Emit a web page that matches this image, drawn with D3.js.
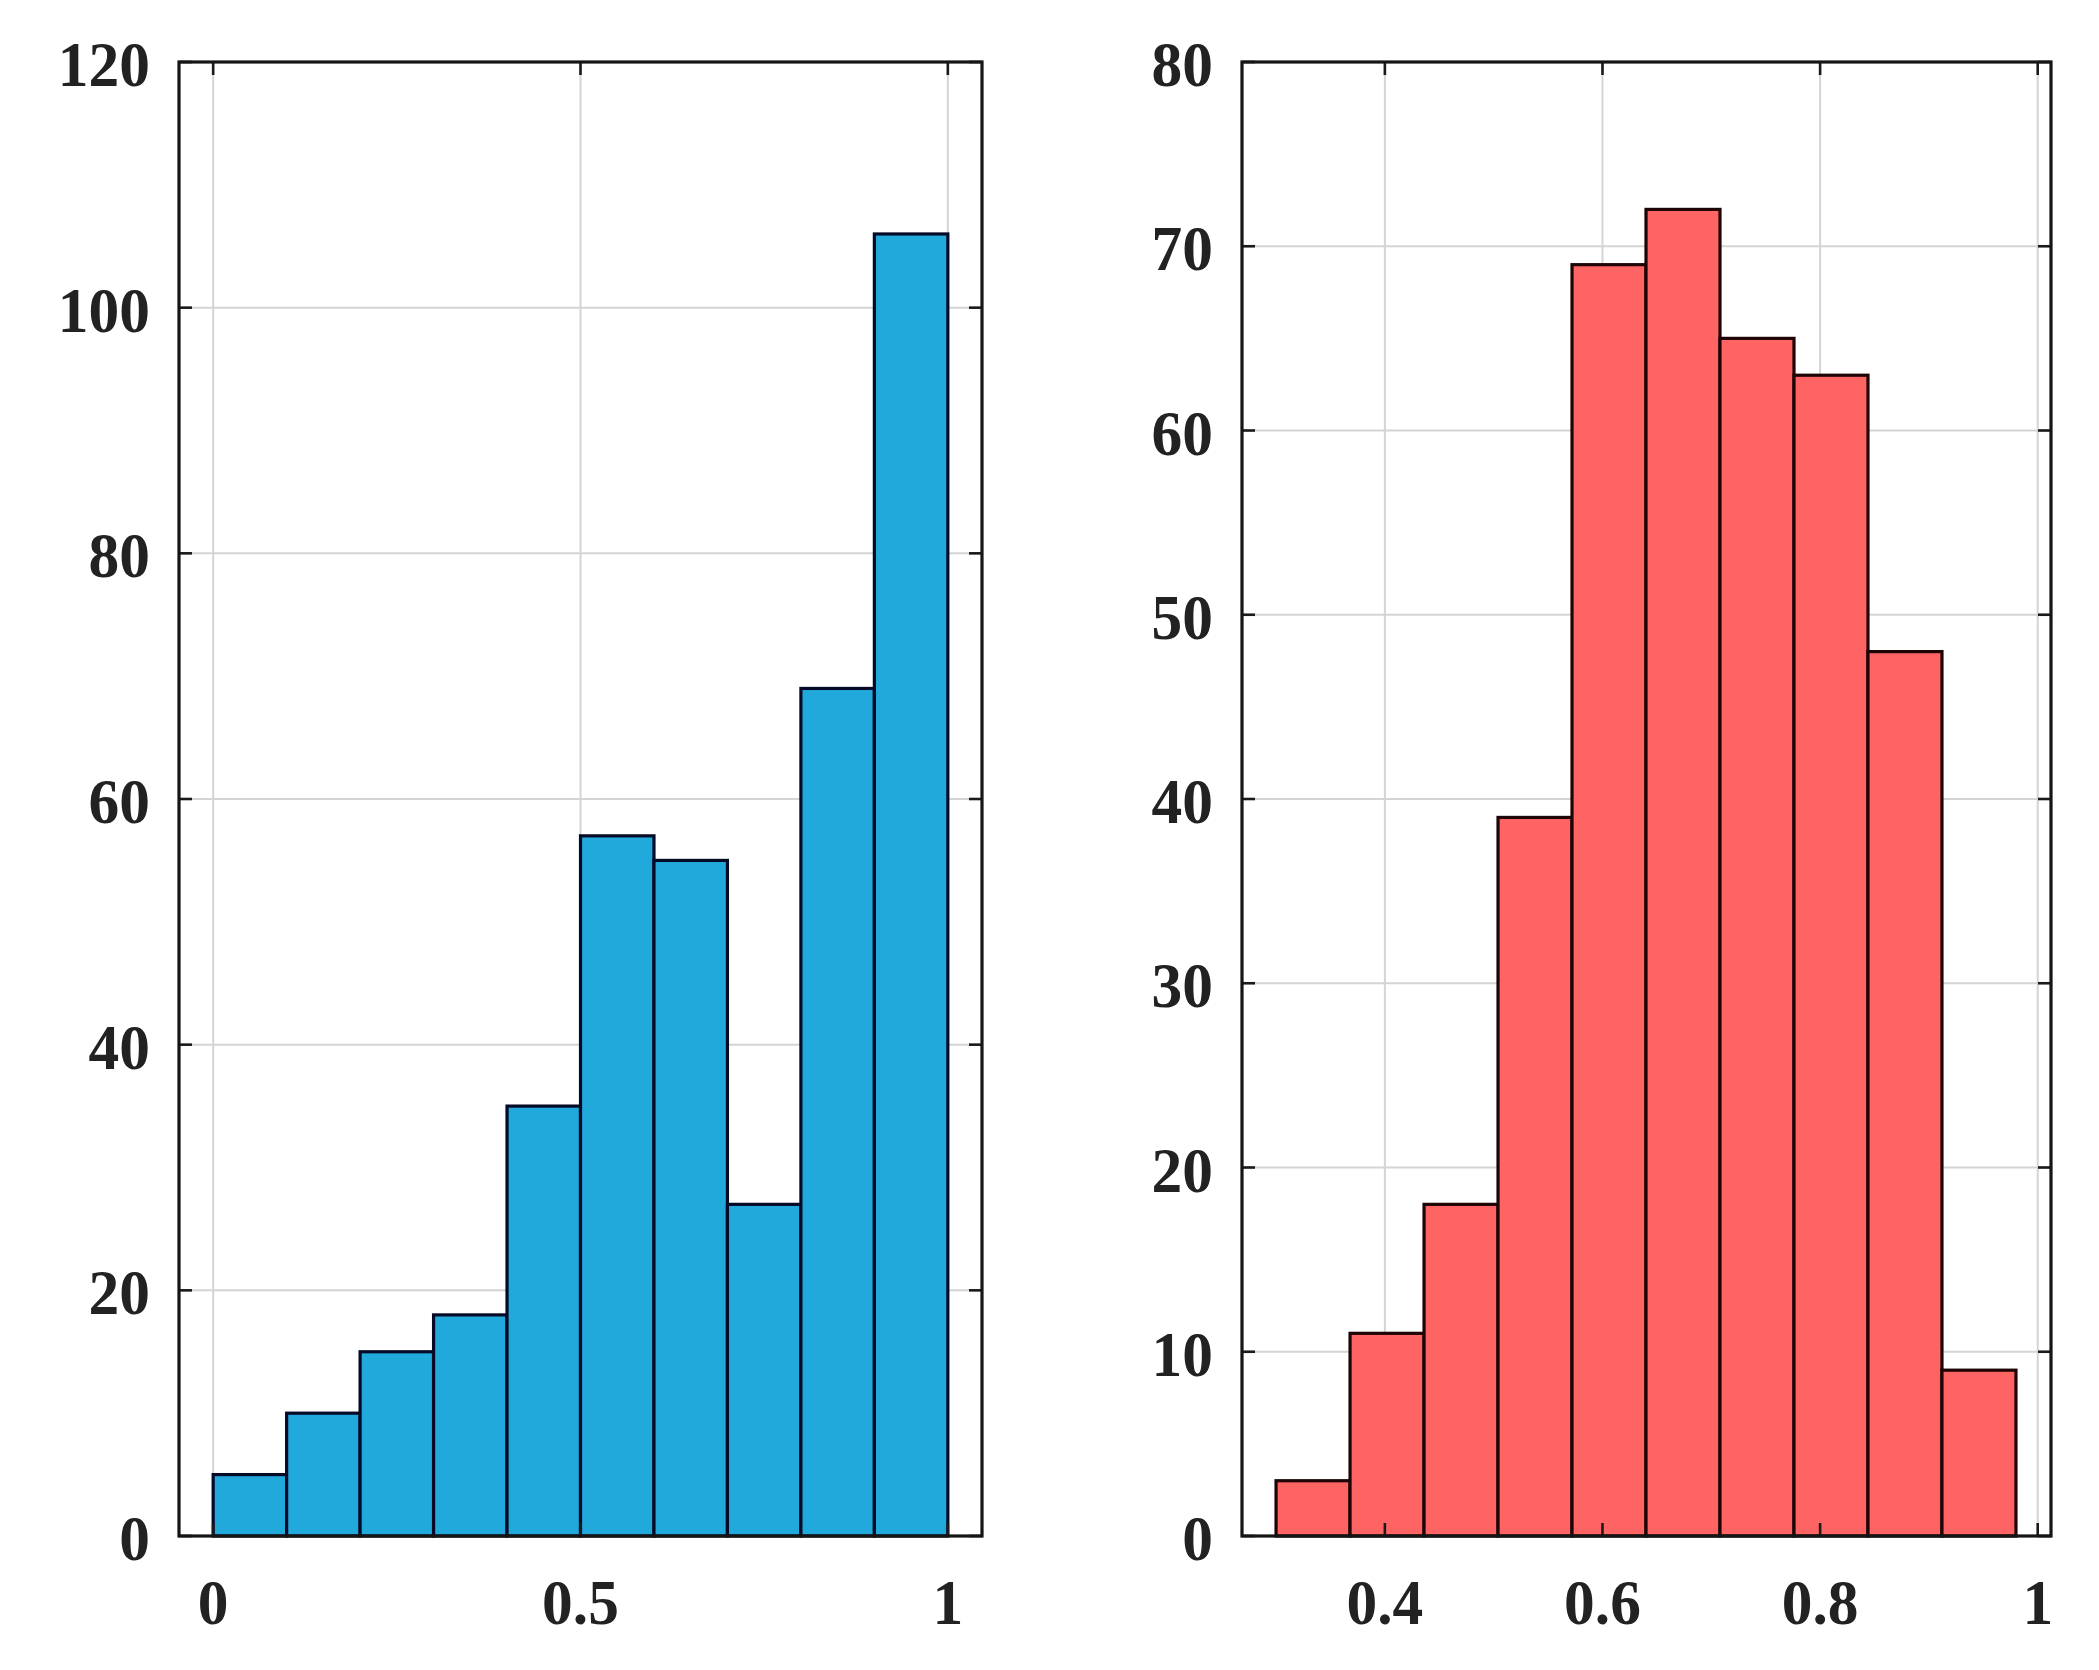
<!DOCTYPE html>
<html>
<head>
<meta charset="utf-8">
<script src="https://cdn.jsdelivr.net/npm/d3@7"></script>
<style>
  html, body { margin: 0; padding: 0; background: #fff; }
  svg { display: block; }
</style>
</head>
<body>
<script>
// 左图：直方图数据
const leftEdges = [0, 0.1, 0.2, 0.3, 0.4, 0.5, 0.6, 0.7, 0.8, 0.9, 1.0];
const leftCounts = [5, 10, 15, 18, 35, 57, 55, 27, 69, 106];
const leftXTicks = [0, 0.5, 1];
const leftXLabels = ["0", "0.5", "1"];
const leftYTicks = [0, 20, 40, 60, 80, 100, 120];

// 右图：直方图数据
const rightEdges = [0.3, 0.368, 0.436, 0.504, 0.572, 0.64, 0.708, 0.776, 0.844, 0.912, 0.98];
const rightCounts = [3, 11, 18, 39, 69, 72, 65, 63, 48, 9];
const rightXTicks = [0.4, 0.6, 0.8, 1];
const rightXLabels = ["0.4", "0.6", "0.8", "1"];
const rightYTicks = [0, 10, 20, 30, 40, 50, 60, 70, 80];

const W = 2099, H = 1670;
const FONT_SIZE = 64;
const SQUEEZE = 0.96; // 原图字体横向略窄

const svg = d3.select("body").append("svg")
  .attr("width", W)
  .attr("height", H)
  .attr("font-family", "Liberation Serif")
  .attr("font-weight", "bold");

//绘制一个直方图面板
function draw_panel(cfg) {
  const xScale = d3.scaleLinear().domain(cfg.xlim).range([cfg.x0, cfg.x1]);
  const yScale = d3.scaleLinear().domain(cfg.ylim).range([cfg.y1, cfg.y0]);
  const g = svg.append("g");

  // 网格线
  g.selectAll(".vgrid")
    .data(cfg.xTicks)
    .enter()
    .append("line")
    .attr("class", "vgrid")
    .attr("x1", d => xScale(d)).attr("x2", d => xScale(d))
    .attr("y1", cfg.y0).attr("y2", cfg.y1)
    .style("stroke", "#d4d4d4")
    .style("stroke-width", 2);

  g.selectAll(".hgrid")
    .data(cfg.yTicks)
    .enter()
    .append("line")
    .attr("class", "hgrid")
    .attr("x1", cfg.x0).attr("x2", cfg.x1)
    .attr("y1", d => yScale(d)).attr("y2", d => yScale(d))
    .style("stroke", "#d4d4d4")
    .style("stroke-width", 2);

  // 柱子
  const bins = cfg.counts.map((c, i) => ({ a: cfg.edges[i], b: cfg.edges[i + 1], c: c }));
  g.selectAll(".bar")
    .data(bins)
    .enter()
    .append("rect")
    .attr("class", "bar")
    .attr("x", d => xScale(d.a))
    .attr("y", d => yScale(d.c))
    .attr("width", d => xScale(d.b) - xScale(d.a))
    .attr("height", d => yScale(0) - yScale(d.c))
    .style("fill", cfg.color)
    .style("stroke", cfg.edgeColor)
    .style("stroke-width", 3.2);

  // 四边的刻度（向内）
  const tickLen = 13;
  const tickStyle = sel => sel.style("stroke", "#1a1a1a").style("stroke-width", 2.6);
  cfg.xTicks.forEach(t => {
    g.append("line").attr("x1", xScale(t)).attr("x2", xScale(t))
      .attr("y1", cfg.y1).attr("y2", cfg.y1 - tickLen).call(tickStyle);
    g.append("line").attr("x1", xScale(t)).attr("x2", xScale(t))
      .attr("y1", cfg.y0).attr("y2", cfg.y0 + tickLen).call(tickStyle);
  });
  cfg.yTicks.forEach(t => {
    g.append("line").attr("x1", cfg.x0).attr("x2", cfg.x0 + tickLen)
      .attr("y1", yScale(t)).attr("y2", yScale(t)).call(tickStyle);
    g.append("line").attr("x1", cfg.x1).attr("x2", cfg.x1 - tickLen)
      .attr("y1", yScale(t)).attr("y2", yScale(t)).call(tickStyle);
  });

  // 边框
  g.append("rect")
    .attr("x", cfg.x0).attr("y", cfg.y0)
    .attr("width", cfg.x1 - cfg.x0).attr("height", cfg.y1 - cfg.y0)
    .style("fill", "none")
    .style("stroke", "#151515")
    .style("stroke-width", 3.2);

  // 刻度标签
  g.selectAll(".xLabel")
    .data(cfg.xTicks)
    .enter()
    .append("text")
    .attr("class", "xLabel")
    .attr("transform", d => `translate(${xScale(d)},${cfg.y1 + 88}) scale(${SQUEEZE},1)`)
    .text((d, i) => cfg.xLabels[i])
    .style("text-anchor", "middle")
    .style("font-size", FONT_SIZE + "px")
    .style("fill", "#222");

  g.selectAll(".yLabel")
    .data(cfg.yTicks)
    .enter()
    .append("text")
    .attr("class", "yLabel")
    .attr("transform", d => `translate(${cfg.x0 - 29},${yScale(d) + 24}) scale(${SQUEEZE},1)`)
    .text(d => d)
    .style("text-anchor", "end")
    .style("font-size", FONT_SIZE + "px")
    .style("fill", "#222");
}

draw_panel({
  x0: 179, x1: 982, y0: 62, y1: 1536,
  xlim: [-0.0465, 1.0465], ylim: [0, 120],
  edges: leftEdges, counts: leftCounts,
  xTicks: leftXTicks, xLabels: leftXLabels, yTicks: leftYTicks,
  color: "#22a9dc", edgeColor: "#050a26"
});

draw_panel({
  x0: 1242, x1: 2051, y0: 62, y1: 1536,
  xlim: [0.2687, 1.0122], ylim: [0, 80],
  edges: rightEdges, counts: rightCounts,
  xTicks: rightXTicks, xLabels: rightXLabels, yTicks: rightYTicks,
  color: "#ff6464", edgeColor: "#1e0404"
});
</script>
</body>
</html>
